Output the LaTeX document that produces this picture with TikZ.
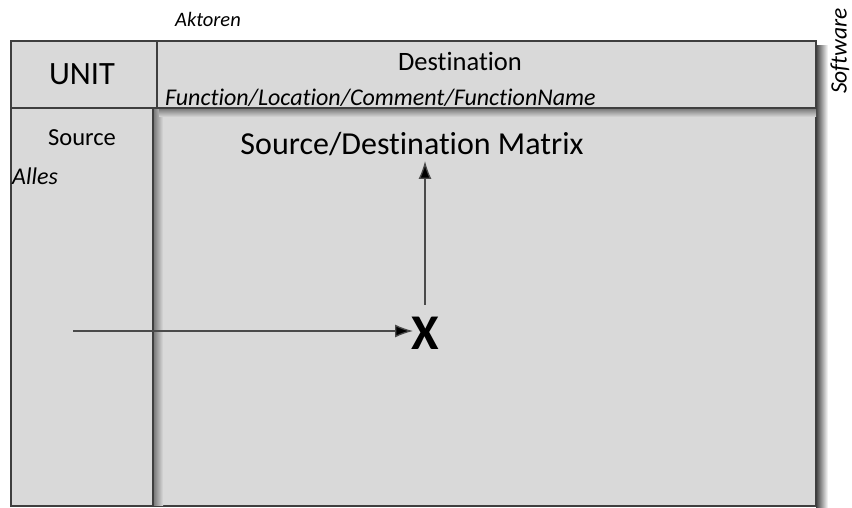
\documentclass[tikz,border=0pt]{standalone}
\usepackage{fontspec}
\setmainfont[Ligatures={NoCommon}]{Carlito}
\usetikzlibrary{arrows.meta}
\definecolor{boxfill}{HTML}{D9D9D9}
\definecolor{boxline}{HTML}{3F3F3F}
\definecolor{arrline}{HTML}{4A4A4A}
\tikzset{
  box/.style={draw=boxline, line width=1.2pt, fill=boxfill},
  lbl/.style={inner sep=0pt, text=black},
  conn/.style={draw=arrline, line width=1.3pt, -{Latex[length=18pt,width=13pt,fill=black]}},
}
\begin{document}
\begin{tikzpicture}[x=1pt,y=-1pt]
\useasboundingbox (0,0) rectangle (852,508);
% matrix background + right shadow
\shade[left color=black!75, right color=white] (816,46) rectangle (828,507);
\path[box] (11,41) rectangle (816,506);
% source column shadow + box
\shade[left color=black!55, right color=boxfill] (153,110) rectangle (163,505);
\path[box] (11,108) rectangle (153,506);
% destination shadow + box
\shade[top color=black!55, bottom color=boxfill] (159,108) rectangle (816,117);
\path[box] (157,41) rectangle (816,108);
\path[box] (11,41) rectangle (157,108);
% texts
\node[lbl, font=\fontsize{20.5}{24}\selectfont\itshape] (akt) at (208,19) {Aktoren};
\node[lbl, font=\fontsize{23.5}{26}\selectfont\itshape, rotate=90] (sw) at (840,51) {Software};
\node[lbl, font=\fontsize{32.5}{36}\selectfont] (unit) at (82,74) {UNIT};
\node[lbl, font=\fontsize{26.5}{30}\selectfont] (dest) at (460,61) {Destination};
\node[lbl, font=\fontsize{24}{28}\selectfont\itshape, anchor=west] (func) at (165,98) {Function/Location/Comment/FunctionName};
\node[lbl, font=\fontsize{24.5}{28}\selectfont] (src) at (82,138) {Source};
\node[lbl, font=\fontsize{24}{28}\selectfont\itshape, anchor=west] (alles) at (12,176) {Alles};
\node[lbl, font=\fontsize{32}{36}\selectfont] (title) at (412,144) {Source/Destination Matrix};
\node[lbl, font=\fontsize{50}{54}\selectfont\bfseries] (X) at (425,333) {X};
% connectors
\coordinate (hstart) at (73,331);
\coordinate (vend) at (425,161);
\draw[conn] (hstart) -- ([xshift=2pt]hstart -| X.west);
\draw[conn] ([yshift=12pt]vend |- X.north) -- (vend);
\end{tikzpicture}
\end{document}
